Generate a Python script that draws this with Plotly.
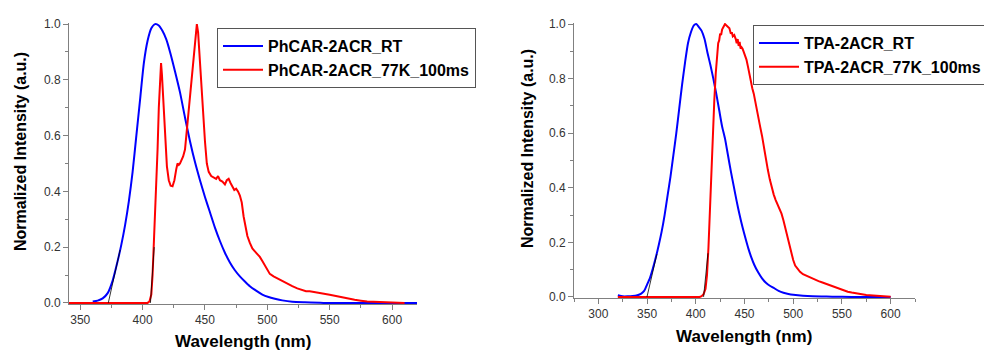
import plotly.graph_objects as go

# ---------------- data ----------------
ph_rt_x = [360, 364, 368, 372, 376, 380, 383, 386, 389, 392, 395, 398, 401, 404, 407, 410, 413, 416,
           419, 422, 426, 430, 434, 438, 442, 446, 450, 454, 458, 462, 466, 470, 474, 478, 482, 486,
           491, 496, 501, 506, 512, 520, 530, 545, 620]
ph_rt_y = [0.005, 0.008, 0.016, 0.035, 0.08, 0.15, 0.21, 0.28, 0.365, 0.47, 0.6, 0.73, 0.86, 0.94, 0.985,
           1.0, 0.995, 0.975, 0.945, 0.9, 0.83, 0.755, 0.665, 0.58, 0.505, 0.44, 0.38, 0.325, 0.27, 0.222,
           0.18, 0.145, 0.117, 0.095, 0.077, 0.06, 0.044, 0.03, 0.021, 0.015, 0.009, 0.004, 0.002, 0.0, 0.0]

ph_77k_x = [341, 404, 405.5, 407, 408, 409, 410, 411, 412, 413, 414, 414.8, 415.5, 416.5, 417.5, 418.5,
            419.5, 421, 422.5, 424, 425.5, 427, 428, 429, 430, 431, 432.5, 434, 435, 436, 437.5, 439,
            440.5, 442, 443, 443.5, 444.5, 445.5, 446.5, 447.5, 448.8, 450, 451.5, 453, 455, 457, 459,
            460.5, 462, 464, 466, 467.5, 469, 470.5, 472, 473.5, 475, 476.5, 478, 479.5, 481, 482.5,
            484, 486, 488, 490, 492, 494, 496, 498, 500, 502, 505, 508, 511, 514, 517, 520, 524, 528,
            531, 534, 537, 540, 545, 550, 555, 560, 565, 570, 575, 580, 590, 600, 610]
ph_77k_y = [0.0, 0.0, 0.005, 0.03, 0.1, 0.2, 0.3, 0.39, 0.55, 0.7, 0.82, 0.86, 0.82, 0.73, 0.63, 0.55,
            0.49, 0.44, 0.42, 0.418, 0.44, 0.48, 0.5, 0.495, 0.5, 0.51, 0.525, 0.55, 0.6, 0.65, 0.72, 0.79,
            0.87, 0.94, 0.99, 1.0, 0.97, 0.9, 0.8, 0.74, 0.67, 0.58, 0.5, 0.47, 0.455, 0.45, 0.445,
            0.455, 0.44, 0.435, 0.425, 0.44, 0.445, 0.43, 0.415, 0.405, 0.41, 0.4, 0.385, 0.36, 0.31, 0.27,
            0.24, 0.215, 0.195, 0.185, 0.175, 0.165, 0.15, 0.135, 0.118, 0.104, 0.095, 0.088, 0.08, 0.072,
            0.066, 0.06, 0.052, 0.046, 0.042, 0.042, 0.04, 0.037, 0.033, 0.029, 0.025, 0.02, 0.016, 0.011,
            0.008, 0.005, 0.003, 0.001, 0.0]

tpa_rt_x = [320, 325, 330, 335, 340, 344, 347, 350, 353, 356, 359, 362, 365, 368, 371, 374, 377, 380,
            383, 386, 389, 392, 395, 398, 400.5, 403, 406, 409, 412, 415, 418, 421, 424, 427, 430, 433,
            436, 439, 442, 445, 448, 451, 454, 457, 460, 464, 468, 472, 476, 480, 485, 490, 495, 500,
            510, 520, 540, 560, 600]
tpa_rt_y = [0.006, 0.002, 0.002, 0.003, 0.006, 0.012, 0.022, 0.045, 0.07, 0.105, 0.145, 0.19, 0.24, 0.3,
            0.37, 0.44, 0.52, 0.6, 0.69, 0.78, 0.86, 0.93, 0.97, 0.995, 1.0, 0.99, 0.975, 0.945, 0.895,
            0.85, 0.8, 0.745, 0.685, 0.625, 0.58, 0.52, 0.46, 0.405, 0.35, 0.3, 0.255, 0.215, 0.177, 0.145,
            0.118, 0.09, 0.068, 0.052, 0.041, 0.033, 0.022, 0.015, 0.011, 0.008, 0.004, 0.002, 0.001,
            0.0, 0.0]

tpa_77k_x = [320, 404, 406, 408, 410, 411.5, 413, 414.5, 416, 417.5, 419, 420.5, 422, 423, 424, 425,
             426, 427, 428.5, 430, 431.5, 433, 434.5, 436, 437, 438, 439.5, 441, 442, 443, 444, 445,
             446, 447, 448, 449, 450.5, 452, 453.5, 455, 456.5, 458, 459.5, 461, 462.5, 464, 466, 468,
             470, 472, 474, 476, 478, 480, 482, 484, 486, 488, 490, 492, 494, 496, 498, 500, 502, 504,
             507, 510, 514, 518, 522, 526, 530, 535, 540, 545, 548, 552, 556, 560, 565, 570, 575, 582,
             590, 600]
tpa_77k_y = [0.0, 0.0, 0.003, 0.01, 0.03, 0.08, 0.18, 0.33, 0.45, 0.6, 0.72, 0.82, 0.9, 0.93, 0.94, 0.965,
             0.96, 0.98, 0.99, 1.0, 0.995, 0.99, 0.985, 0.965, 0.97, 0.955, 0.96, 0.945, 0.93, 0.945,
             0.92, 0.935, 0.91, 0.915, 0.91, 0.9, 0.885, 0.87, 0.845, 0.815, 0.79, 0.765, 0.745, 0.72,
             0.695, 0.665, 0.625, 0.59, 0.545, 0.5, 0.465, 0.43, 0.4, 0.375, 0.355, 0.34, 0.325, 0.305,
             0.28, 0.25, 0.22, 0.19, 0.16, 0.135, 0.115, 0.105, 0.092, 0.083, 0.076, 0.069, 0.063, 0.058,
             0.053, 0.046, 0.039, 0.033, 0.029, 0.024, 0.019, 0.016, 0.013, 0.009, 0.007, 0.005, 0.003,
             0.001]

# onset tangent segments (thin black lines)
ph_tan_blue_x, ph_tan_blue_y = [372.5, 382], [0.0, 0.19]
ph_tan_red_x, ph_tan_red_y = [406.3, 409.3], [0.0, 0.2]
tpa_tan_blue_x, tpa_tan_blue_y = [349.9, 360.1], [0.0, 0.157]
tpa_tan_red_x, tpa_tan_red_y = [408.0, 412.5], [0.0, 0.16]

names_left = ["PhCAR-2ACR_RT", "PhCAR-2ACR_77K_100ms"]
names_right = ["TPA-2ACR_RT", "TPA-2ACR_77K_100ms"]
x_ticks_left = [350, 400, 450, 500, 550, 600]
x_ticks_right = [300, 350, 400, 450, 500, 550, 600]
y_ticks = [0.0, 0.2, 0.4, 0.6, 0.8, 1.0]
x_title = "Wavelength (nm)"
y_title = "Normalized Intensity (a.u.)"

# ---------------- figure ----------------
W, H = 984, 351
FONT = "Liberation Sans, Arial, sans-serif"
BLUE, RED = "#0000FF", "#FF0000"

fig = go.Figure()

fig.add_trace(go.Scatter(x=ph_rt_x, y=ph_rt_y, mode="lines", name=names_left[0],
                         line=dict(color=BLUE, width=2, shape="spline", smoothing=0.6),
                         xaxis="x", yaxis="y", legend="legend"))
fig.add_trace(go.Scatter(x=ph_77k_x, y=ph_77k_y, mode="lines", name=names_left[1],
                         line=dict(color=RED, width=2), xaxis="x", yaxis="y", legend="legend"))
for tx, ty in [(ph_tan_blue_x, ph_tan_blue_y), (ph_tan_red_x, ph_tan_red_y)]:
    fig.add_trace(go.Scatter(x=tx, y=ty, mode="lines", showlegend=False,
                             line=dict(color="black", width=0.8), xaxis="x", yaxis="y"))

fig.add_trace(go.Scatter(x=tpa_rt_x, y=tpa_rt_y, mode="lines", name=names_right[0],
                         line=dict(color=BLUE, width=2, shape="spline", smoothing=0.6),
                         xaxis="x2", yaxis="y2", legend="legend2"))
fig.add_trace(go.Scatter(x=tpa_77k_x, y=tpa_77k_y, mode="lines", name=names_right[1],
                         line=dict(color=RED, width=2), xaxis="x2", yaxis="y2", legend="legend2"))
for tx, ty in [(tpa_tan_blue_x, tpa_tan_blue_y), (tpa_tan_red_x, tpa_tan_red_y)]:
    fig.add_trace(go.Scatter(x=tx, y=ty, mode="lines", showlegend=False,
                             line=dict(color="black", width=0.8), xaxis="x2", yaxis="y2"))


def px_x(p):
    return p / W


def px_y(p):
    return 1 - p / H


AXCOL = "#808080"
TICKFONT = dict(family=FONT, size=12, color="#333333")

common_x = dict(showline=True, linecolor=AXCOL, linewidth=1, ticks="outside", ticklen=5,
                tickcolor=AXCOL, showgrid=False, zeroline=False, tickfont=TICKFONT,
                minor=dict(ticks="outside", ticklen=3, tickcolor=AXCOL, dtick=25, tick0=0))
common_y = dict(showline=True, linecolor=AXCOL, linewidth=1, ticks="outside", ticklen=5,
                tickcolor=AXCOL, showgrid=False, zeroline=False, tickfont=TICKFONT,
                tickvals=y_ticks, tickformat=".1f", range=[-0.004, 1.004],
                minor=dict(ticks="outside", ticklen=3, tickcolor=AXCOL, dtick=0.1, tick0=0))

LEGFONT = dict(family=FONT, size=16, color="black", weight="bold")

fig.update_layout(
    width=W, height=H,
    margin=dict(l=0, r=0, t=0, b=0, autoexpand=False),
    paper_bgcolor="white", plot_bgcolor="white",
    font=dict(family=FONT),
    xaxis=dict(domain=[px_x(69), px_x(417)], range=[341, 620], tickvals=x_ticks_left,
               anchor="y", **common_x),
    yaxis=dict(domain=[px_y(304), px_y(23)], anchor="x", **common_y),
    xaxis2=dict(domain=[px_x(574), px_x(915)], range=[275, 625], tickvals=x_ticks_right,
                anchor="y2", **common_x),
    yaxis2=dict(domain=[px_y(298), px_y(23)], anchor="x2", **common_y),
    legend=dict(x=px_x(217), y=px_y(28), xanchor="left", yanchor="top",
                bgcolor="white", bordercolor="#555555", borderwidth=1,
                font=LEGFONT, itemwidth=40, tracegroupgap=0),
    legend2=dict(x=px_x(753), y=px_y(25), xanchor="left", yanchor="top",
                 bgcolor="white", bordercolor="#555555", borderwidth=1,
                 font=LEGFONT, itemwidth=40, tracegroupgap=0),
    annotations=[
        dict(text=x_title, xref="paper", yref="paper", x=px_x(243), y=px_y(341),
             xanchor="center", yanchor="middle", showarrow=False,
             font=dict(family=FONT, size=17, color="black", weight="bold")),
        dict(text=x_title, xref="paper", yref="paper", x=px_x(744), y=px_y(336),
             xanchor="center", yanchor="middle", showarrow=False,
             font=dict(family=FONT, size=17, color="black", weight="bold")),
        dict(text=y_title, xref="paper", yref="paper", x=px_x(21), y=px_y(152),
             xanchor="center", yanchor="middle", showarrow=False, textangle=-90,
             font=dict(family=FONT, size=16, color="black", weight="bold")),
        dict(text=y_title, xref="paper", yref="paper", x=px_x(527), y=px_y(149),
             xanchor="center", yanchor="middle", showarrow=False, textangle=-90,
             font=dict(family=FONT, size=16, color="black", weight="bold")),
    ],
)

fig.write_html("out.html")
